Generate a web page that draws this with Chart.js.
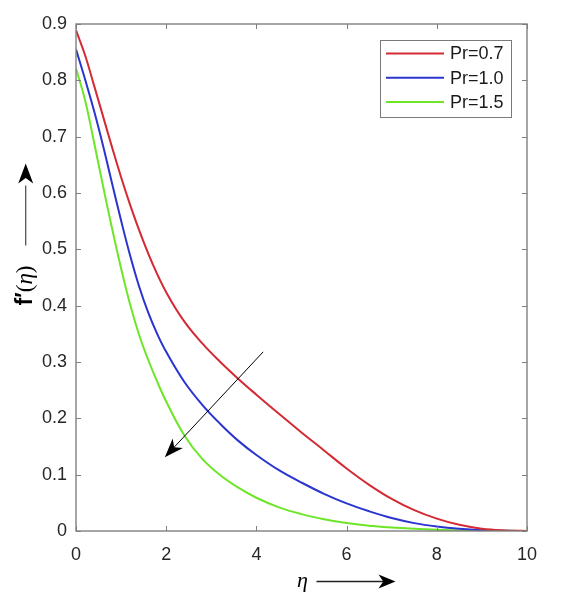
<!DOCTYPE html>
<html><head><meta charset="utf-8">
<script src="https://cdn.jsdelivr.net/npm/chart.js@4.4.1/dist/chart.umd.min.js"></script>
<style>html,body{margin:0;padding:0;background:#fff;overflow:hidden}</style>
</head><body>
<canvas id="c" width="579" height="601"></canvas>
<script>
// ---- data ----
const SERIES_LABELS = ['Pr=0.7', 'Pr=1.0', 'Pr=1.5'];
const SERIES_COLORS = ['#d42a34', '#2a35cf', '#6ee628'];

const ETA_PR07 = [0, 0.2, 0.4, 0.6, 0.8, 1.0, 1.2, 1.4, 1.7, 2.0, 2.4, 2.8, 3.2, 3.6, 4.0, 4.5, 5.0, 5.5, 6.0, 6.5, 7.0, 7.5, 8.0, 8.5, 9.0, 9.5, 10];
const F_PR07   = [0.889, 0.845, 0.791, 0.736, 0.681, 0.628, 0.579, 0.534, 0.474, 0.424, 0.372, 0.333, 0.300, 0.270, 0.242, 0.208, 0.175, 0.143, 0.111, 0.082, 0.057, 0.037, 0.022, 0.011, 0.004, 0.001, 0];

const ETA_PR10 = [0, 0.2, 0.4, 0.6, 0.8, 1.0, 1.2, 1.4, 1.6, 1.8, 2.0, 2.4, 2.8, 3.2, 3.6, 4.0, 4.5, 5.0, 5.5, 6.0, 6.5, 7.0, 7.5, 8.0, 8.5, 9.0, 9.5, 10];
const F_PR10   = [0.855, 0.802, 0.746, 0.684, 0.617, 0.551, 0.489, 0.434, 0.388, 0.350, 0.318, 0.265, 0.224, 0.190, 0.160, 0.135, 0.108, 0.086, 0.066, 0.049, 0.035, 0.023, 0.014, 0.008, 0.004, 0.0015, 0.0003, 0];

const ETA_PR15 = [0, 0.2, 0.4, 0.6, 0.8, 1.0, 1.2, 1.4, 1.6, 1.8, 2.0, 2.4, 2.8, 3.2, 3.6, 4.0, 4.5, 5.0, 5.5, 6.0, 6.5, 7.0, 8.0, 9.0, 10];
const F_PR15   = [0.821, 0.765, 0.690, 0.612, 0.537, 0.466, 0.402, 0.348, 0.304, 0.265, 0.230, 0.170, 0.128, 0.099, 0.077, 0.059, 0.042, 0.030, 0.021, 0.014, 0.0095, 0.006, 0.0022, 0.0007, 0];

const X_TICKS = [0, 2, 4, 6, 8, 10];
const Y_TICKS = [0, 0.1, 0.2, 0.3, 0.4, 0.5, 0.6, 0.7, 0.8, 0.9];

// trend arrow, in data coordinates (tail -> tip)
const TREND_ARROW = { from: [4.15, 0.318], to: [1.97, 0.131] };

const toPts = (xs, ys) => xs.map((x, i) => ({ x: x, y: ys[i] }));
const SERIES = [toPts(ETA_PR07, F_PR07), toPts(ETA_PR10, F_PR10), toPts(ETA_PR15, F_PR15)];

const AXIS_COLOR = '#808080';
const TICK_FONT = { family: "'Liberation Sans', Arial, Helvetica, sans-serif", size: 18 };

function arrowHead(ctx, tx, ty, ang, len, half) {
  const ca = Math.cos(ang), sa = Math.sin(ang);
  const bx = tx - ca * len, by = ty - sa * len;
  const nx = -sa, ny = ca;
  const inx = tx - ca * len * 0.72, iny = ty - sa * len * 0.72;
  ctx.beginPath();
  ctx.moveTo(tx, ty);
  ctx.lineTo(bx + nx * half, by + ny * half);
  ctx.lineTo(inx, iny);
  ctx.lineTo(bx - nx * half, by - ny * half);
  ctx.closePath();
  ctx.fill();
}

const decorPlugin = {
  id: 'decor',
  afterDatasetsDraw(chart) {
    const ctx = chart.ctx, a = chart.chartArea;
    const xs = chart.scales.x, ys = chart.scales.y;
    ctx.save();
    // box
    ctx.strokeStyle = AXIS_COLOR;
    ctx.lineWidth = 1.4;
    ctx.strokeRect(a.left, a.top, a.right - a.left, a.bottom - a.top);
    // inner ticks on all four sides
    ctx.lineWidth = 1;
    const tl = 5;
    ctx.beginPath();
    X_TICKS.forEach(v => {
      const px = Math.round(xs.getPixelForValue(v)) + 0.5;
      ctx.moveTo(px, a.bottom); ctx.lineTo(px, a.bottom - tl);
      ctx.moveTo(px, a.top); ctx.lineTo(px, a.top + tl);
    });
    Y_TICKS.forEach(v => {
      const py = Math.round(ys.getPixelForValue(v)) + 0.5;
      ctx.moveTo(a.left, py); ctx.lineTo(a.left + tl, py);
      ctx.moveTo(a.right, py); ctx.lineTo(a.right - tl, py);
    });
    ctx.stroke();

    // legend box (top-right, inside)
    const lw = 131, lh = 77;
    const lx = a.right - 16 - lw, ly = a.top + 16;
    ctx.fillStyle = '#fff';
    ctx.fillRect(lx, ly, lw, lh);
    ctx.strokeStyle = '#7a7a7a';
    ctx.lineWidth = 1;
    ctx.strokeRect(lx + 0.5, ly + 0.5, lw, lh);
    ctx.font = "18px 'Liberation Sans', Arial, sans-serif";
    ctx.textBaseline = 'middle';
    ctx.textAlign = 'left';
    chart.data.datasets.forEach((ds, i) => {
      const yy = ly + 13.5 + i * 24.3;
      ctx.strokeStyle = ds.borderColor;
      ctx.lineWidth = 2;
      ctx.beginPath();
      ctx.moveTo(lx + 6, yy); ctx.lineTo(lx + 64, yy);
      ctx.stroke();
      ctx.fillStyle = '#1a1a1a';
      ctx.fillText(ds.label, lx + 70, yy + 1);
    });

    // trend arrow
    const t0x = xs.getPixelForValue(TREND_ARROW.from[0]), t0y = ys.getPixelForValue(TREND_ARROW.from[1]);
    const t1x = xs.getPixelForValue(TREND_ARROW.to[0]), t1y = ys.getPixelForValue(TREND_ARROW.to[1]);
    const ang = Math.atan2(t1y - t0y, t1x - t0x);
    ctx.strokeStyle = '#000';
    ctx.fillStyle = '#000';
    ctx.lineWidth = 1;
    ctx.beginPath();
    ctx.moveTo(t0x, t0y);
    ctx.lineTo(t1x - Math.cos(ang) * 10, t1y - Math.sin(ang) * 10);
    ctx.stroke();
    arrowHead(ctx, t1x, t1y, ang, 19, 7);

    // y-axis title with upward arrow
    const yMid = (a.top + a.bottom) / 2;
    ctx.save();
    ctx.translate(32, yMid + 8);
    ctx.rotate(-Math.PI / 2);
    ctx.textBaseline = 'alphabetic';
    ctx.fillStyle = '#000';
    const partF = "bold 23px 'Liberation Sans', Arial, sans-serif";
    const partP = "23px 'Liberation Serif', 'Times New Roman', serif";
    const partE = "italic 23px 'Liberation Serif', 'Times New Roman', serif";
    const parts = [['f', partF], ['\u2032', partF], ['(', partP], ['\u03B7', partE], [')', partP]];
    let total = 0;
    parts.forEach(p => { ctx.font = p[1]; total += ctx.measureText(p[0]).width; });
    let cx = -total / 2;
    ctx.textAlign = 'left';
    parts.forEach(p => { ctx.font = p[1]; ctx.fillText(p[0], cx, 0); cx += ctx.measureText(p[0]).width; });
    ctx.restore();
    ctx.strokeStyle = '#555';
    ctx.fillStyle = '#000';
    ctx.lineWidth = 1.3;
    ctx.beginPath();
    ctx.moveTo(25.7, yMid - 32);
    ctx.lineTo(25.7, yMid - 92);
    ctx.stroke();
    arrowHead(ctx, 25.7, yMid - 114, -Math.PI / 2, 20, 7.5);

    // x-axis title with rightward arrow
    const xMid = (a.left + a.right) / 2;
    ctx.fillStyle = '#000';
    ctx.font = "italic 22px 'Liberation Serif', 'Times New Roman', serif";
    ctx.textAlign = 'center';
    ctx.textBaseline = 'alphabetic';
    ctx.fillText('\u03B7', xMid + 1, 587);
    ctx.strokeStyle = '#222';
    ctx.lineWidth = 1.3;
    ctx.beginPath();
    ctx.moveTo(xMid + 15, 581.5);
    ctx.lineTo(xMid + 85, 581.5);
    ctx.stroke();
    arrowHead(ctx, xMid + 94, 581.5, 0, 17, 7);
    ctx.restore();
  }
};

new Chart(document.getElementById('c'), {
  type: 'scatter',
  data: {
    datasets: SERIES.map((pts, i) => ({
      label: SERIES_LABELS[i],
      data: pts,
      showLine: true,
      borderColor: SERIES_COLORS[i],
      backgroundColor: SERIES_COLORS[i],
      borderWidth: 2,
      pointRadius: 0,
      tension: 0.4,
      fill: false
    }))
  },
  options: {
    responsive: false,
    animation: false,
    layout: { padding: { top: 24, right: 52, left: 0, bottom: 0 } },
    plugins: { legend: { display: false }, tooltip: { enabled: false } },
    scales: {
      x: {
        type: 'linear', min: 0, max: 10,
        afterBuildTicks: s => { s.ticks = X_TICKS.map(v => ({ value: v })); },
        afterFit: s => { s.height = 70; },
        grid: { display: false, drawTicks: false },
        border: { display: false },
        ticks: { font: TICK_FONT, color: '#262626', padding: 13, maxRotation: 0, autoSkip: false,
                 callback: v => String(v) }
      },
      y: {
        type: 'linear', min: 0, max: 0.9,
        afterBuildTicks: s => { s.ticks = Y_TICKS.map(v => ({ value: v })); },
        afterFit: s => { s.width = 76; },
        grid: { display: false, drawTicks: false },
        border: { display: false },
        ticks: { font: TICK_FONT, color: '#262626', padding: 9, autoSkip: false,
                 callback: v => String(+Number(v).toFixed(1)) }
      }
    }
  },
  plugins: [decorPlugin]
});
</script>
</body></html>
